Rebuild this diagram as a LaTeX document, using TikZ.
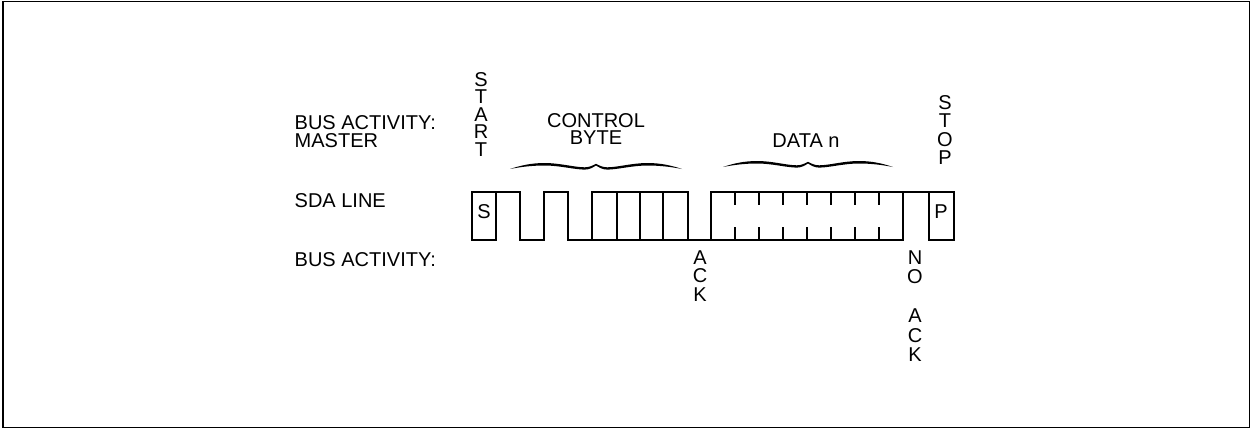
\documentclass[tikz,border=0pt]{standalone}
\usepackage{fontspec}
\setmainfont{Liberation Sans}
\newcommand\stackc[2][18.5pt]{\vtop{\baselineskip=#1\lineskiplimit=-\maxdimen\halign{\hfil##\hfil\cr#2\crcr}}}
\newcommand\stackl[2][18.5pt]{\vtop{\baselineskip=#1\lineskiplimit=-\maxdimen\halign{##\hfil\cr#2\crcr}}}
% wavy brace: centre x, half width, end y
\newcommand\mybrace[3]{%
  \fill ({#1-#2},#3)
    .. controls ({#1-0.88*#2},{#3-3.5}) and ({#1-0.75*#2},{#3-6}) .. ({#1-0.6*#2},{#3-6})
    .. controls ({#1-0.42*#2},{#3-6}) and ({#1-0.25*#2},{#3-1.7}) .. ({#1-0.13*#2},{#3-1.7})
    .. controls ({#1-0.07*#2},{#3-1.7}) and ({#1-0.03*#2},{#3-4}) .. (#1,{#3-5.2})
    .. controls ({#1+0.03*#2},{#3-4}) and ({#1+0.07*#2},{#3-1.7}) .. ({#1+0.13*#2},{#3-1.7})
    .. controls ({#1+0.25*#2},{#3-1.7}) and ({#1+0.42*#2},{#3-6}) .. ({#1+0.6*#2},{#3-6})
    .. controls ({#1+0.75*#2},{#3-6}) and ({#1+0.88*#2},{#3-3.5}) .. ({#1+#2},#3)
    .. controls ({#1+0.88*#2},{#3-2}) and ({#1+0.75*#2},{#3-3.5}) .. ({#1+0.6*#2},{#3-3.5})
    .. controls ({#1+0.42*#2},{#3-3.5}) and ({#1+0.25*#2},{#3+0.6}) .. ({#1+0.13*#2},{#3+0.6})
    .. controls ({#1+0.07*#2},{#3+0.6}) and ({#1+0.03*#2},{#3-2}) .. (#1,{#3-3.5})
    .. controls ({#1-0.03*#2},{#3-2}) and ({#1-0.07*#2},{#3+0.6}) .. ({#1-0.13*#2},{#3+0.6})
    .. controls ({#1-0.25*#2},{#3+0.6}) and ({#1-0.42*#2},{#3-3.5}) .. ({#1-0.6*#2},{#3-3.5})
    .. controls ({#1-0.75*#2},{#3-3.5}) and ({#1-0.88*#2},{#3-2}) .. ({#1-#2},#3) -- cycle;}
\tikzset{
  lbl/.style={inner sep=0pt, font=\fontsize{20}{18.5}\selectfont},
  wave/.style={line width=1.2pt, line join=miter},
  frame/.style={line width=1.5pt}
}
\begin{document}
\begin{tikzpicture}[x=1pt,y=-1pt]
\useasboundingbox (0,0) rectangle (1251,429);
\draw[frame] (2.8,1.7) rectangle (1249.5,427.6);
% labels
\node[lbl, anchor=base west] (mastertxt) at (294.5,129.3) {\stackl{BUS ACTIVITY:\cr MASTER}};
\node[lbl, anchor=base west] (sdatxt) at (294.5,207.6) {SDA LINE};
\node[lbl, anchor=base west] (slavetxt) at (294.5,266) {BUS ACTIVITY:};
\node[lbl, anchor=base] (starttxt) at (481,86) {\stackc[17.5pt]{S\cr T\cr A\cr R\cr T}};
\node[lbl, anchor=base] (ctrltxt) at (596,127.6) {\stackc[16.5pt]{CONTROL\cr BYTE}};
\node[lbl, anchor=base] (datatxt) at (806,147.6) {DATA n};
\node[lbl, anchor=base] (stoptxt) at (945,109) {\stackc{S\cr T\cr O\cr P}};
\node[lbl, anchor=base] (acktxt) at (700,264.3) {\stackc{A\cr C\cr K}};
\node[lbl, anchor=base] (nacktxt) at (915,264.3) {\stackc[19.5pt]{N\cr O\cr\cr A\cr C\cr K}};
% braces
\mybrace{596}{86}{169}
\mybrace{808}{85}{167}
% start / stop boxes
\draw[wave] (472,192) rectangle (496,240);
\node[lbl, anchor=base] (stxt) at (484,218.3) {S};
\draw[wave] (929,192) rectangle (954,240);
\node[lbl, anchor=base] (ptxt) at (941,218.3) {P};
% waveform
\draw[wave] (496,192) -- (520,192) -- (520,240) -- (544,240) -- (544,192)
  -- (568,192) -- (568,240) -- (903,240) -- (903,192);
\draw[wave] (592,240) -- (592,192) -- (688,192) -- (688,240);
\foreach \x in {617,640,663} \draw[wave] (\x,192) -- (\x,240);
\draw[wave] (711,240) -- (711,192) -- (929,192);
\foreach \x in {735,759,783,807,831,855,879} {
  \draw[wave] (\x,192) -- (\x,205);
  \draw[wave] (\x,227) -- (\x,240);
}
\end{tikzpicture}
\end{document}
